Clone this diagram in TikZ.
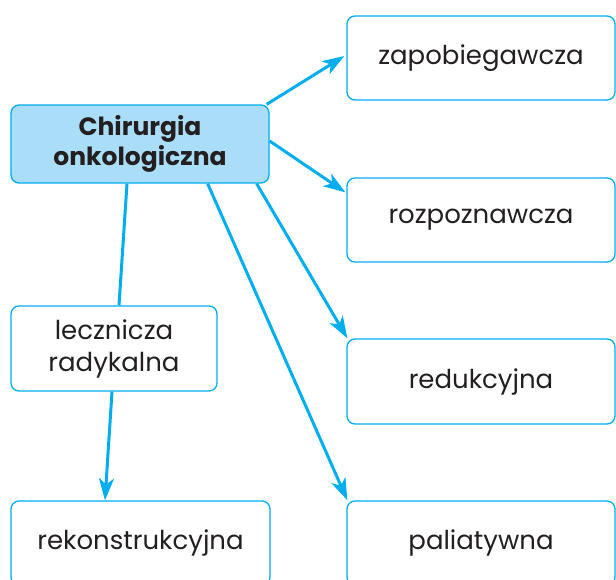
\documentclass[tikz,border=0pt]{standalone}
\usepackage{fontspec}
\setmainfont{Poppins}
\usetikzlibrary{arrows.meta}
\definecolor{cyanline}{HTML}{00AEEF}
\definecolor{lightfill}{HTML}{AADEF8}
\definecolor{txt}{HTML}{231F20}
\begin{document}
\begin{tikzpicture}[x=1pt,y=-1pt,
  box/.style={draw=cyanline,line width=1.3pt,rounded corners=8pt,fill=white,
    inner sep=0pt,align=center,text=txt,font=\fontsize{26}{32}\selectfont},
  mainbox/.style={box,fill=lightfill,font=\fontsize{25}{30}\selectfont\bfseries},
  conn/.style={draw=cyanline,line width=3pt},
  arr/.style={conn,-{Stealth[length=22pt,width=15pt,inset=6pt]}}]
\clip (0,0) rectangle (616,579);
\useasboundingbox (0,0) rectangle (616,579);
\node[mainbox,minimum width=258pt,minimum height=78pt] (c) at (140,144) {Chirurgia\\onkologiczna};
\node[box,minimum width=268pt,minimum height=84pt] (zap) at (481,58) {zapobiegawcza};
\node[box,minimum width=268pt,minimum height=84pt] (roz) at (481,220) {rozpoznawcza};
\node[box,minimum width=268pt,minimum height=85pt] (red) at (481,381.5) {redukcyjna};
\node[box,minimum width=206pt,minimum height=85pt] (lecz) at (114,348.5) {lecznicza\\radykalna};
\node[box,minimum width=259pt,minimum height=84pt] (rek) at (140.5,543) {rekonstrukcyjna};
\node[box,minimum width=268pt,minimum height=84pt] (pal) at (481,543) {paliatywna};
\draw[arr] ([xshift=-3pt]c.north east) -- ([xshift=-2pt,yshift=2pt]zap.west);
\draw[arr] ([yshift=3pt]c.east) -- ([xshift=-1pt,yshift=-15pt]roz.north west);
\draw[arr] ([xshift=-13pt]c.south east) -- ([xshift=1pt]red.north west);
\draw[arr] ([xshift=-62pt]c.south east) -- ([xshift=1pt]pal.north west);
\draw[conn] ([xshift=-13pt]c.south) -- ([xshift=5pt]lecz.north);
\draw[arr] ([xshift=-2pt]lecz.south) -- ([xshift=-35.5pt]rek.north);
\end{tikzpicture}
\end{document}
